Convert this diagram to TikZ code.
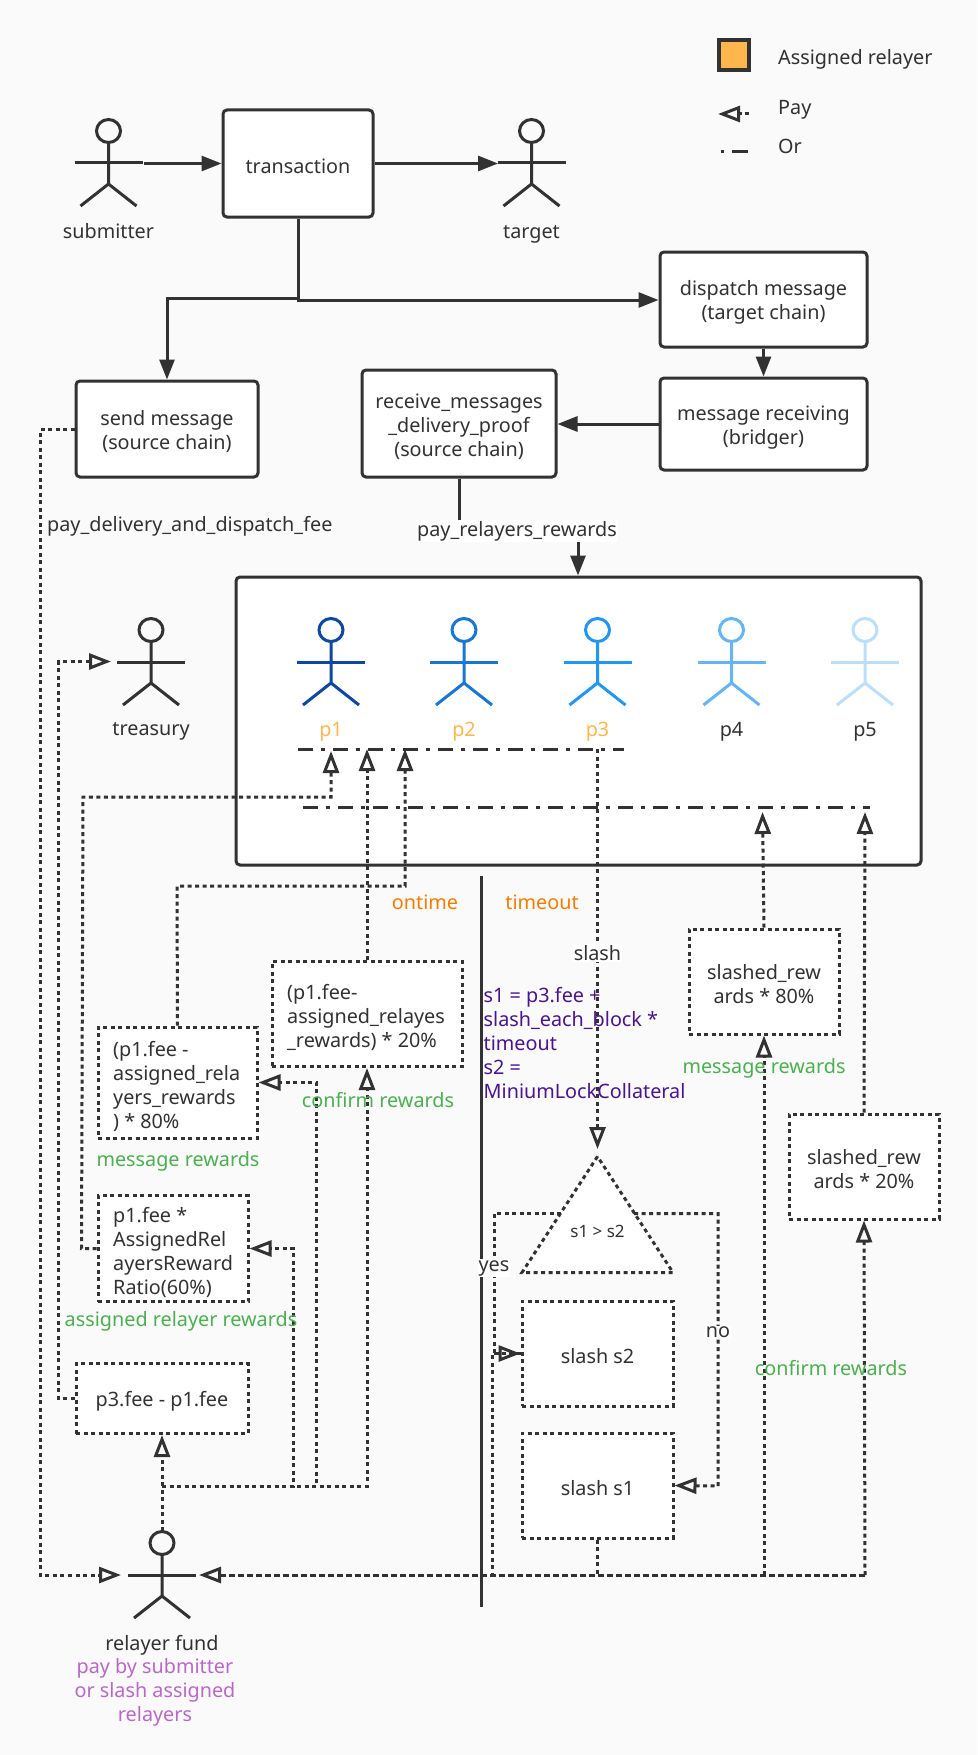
\documentclass[tikz,border=0pt]{standalone}
\usepackage{fontspec}
\setmainfont{Noto Sans}
\usetikzlibrary{arrows.meta}
\usetikzlibrary{shapes.geometric}
\definecolor{ink}{HTML}{323232}
\definecolor{paper}{HTML}{FAFAFA}
\definecolor{gold}{HTML}{FFB74D}
\definecolor{greenlbl}{HTML}{4CAF50}
\definecolor{orangelbl}{HTML}{F57C00}
\definecolor{violetlbl}{HTML}{4A148C}
\definecolor{pinklbl}{HTML}{BA68C8}
\tikzset{
  lbl/.style={inner sep=0pt, align=center, text=ink, font=\fontsize{19.8}{24}\selectfont},
  leftlbl/.style={lbl, align=left, anchor=west},
  patch/.style={lbl, fill=white, inner sep=1pt},
  greenname/.style={lbl, text=greenlbl},
  chain/.style={draw=ink, line width=3pt, fill=white, rounded corners=4pt, lbl},
  fee/.style={draw=ink, line width=3pt, fill=white, lbl, dash pattern=on 4pt off 3.5pt},
  solid line/.style={draw=ink, line width=3pt, -{Triangle[length=20pt,width=15pt]}},
  dots/.style={draw=ink, line width=3pt, dash pattern=on 4pt off 3.5pt},
  pay/.style={dots, -{Triangle[open,length=22pt,width=16pt,line width=3pt]}},
  orline/.style={draw=ink, line width=3pt, dash pattern=on 15pt off 7.5pt on 4.5pt off 8pt},
}
\newcommand{\sink}{\rule{0pt}{21pt}}
\newcommand{\stick}[3]{% x, y of head centre, colour
  \draw[#3, line width=3pt] (#1, #2) ellipse (12 and 11.5);
  \draw[#3, line width=3pt] (#1, #2+11.5) -- (#1, #2+53) -- (#1-28, #2+75);
  \draw[#3, line width=3pt] (#1, #2+53) -- (#1+28, #2+75);
  \draw[#3, line width=3pt] (#1-34, #2+32) -- (#1+34, #2+32);
}
\begin{document}
\begin{tikzpicture}[x=1pt, y=-1pt]
  \fill[paper] (0, 0) rectangle (977, 1755);
  \useasboundingbox (0, 0) rectangle (977, 1755);

  % legend
  \node[draw=ink, line width=3.5pt, fill=gold, minimum width=30pt, minimum height=30pt, inner sep=0pt] (swatch) at (734, 55) {};
  \node[leftlbl] (legendA) at (778, 59) {Assigned relayer};
  \node[leftlbl] (legendP) at (778, 110) {Pay};
  \node[leftlbl] (legendO) at (778, 146) {Or};
  \coordinate (payFrom) at (749, 114);
  \coordinate (payTo) at (718, 114);
  \draw[pay] (payFrom) -- (payTo);
  \coordinate (orFrom) at (721, 152);
  \coordinate (orTo) at (748, 152);
  \draw[draw=ink, line width=3pt, dash pattern=on 3pt off 8pt on 16pt off 10pt] (orFrom) -- (orTo);

  % top of the flow
  \stick{108.5}{131}{ink}
  \stick{531.5}{131}{ink}
  \node[lbl] (submitter) at (108.5, 231) {submitter};
  \node[lbl] (target) at (531.5, 234) {target};
  \node[chain, minimum width=150pt, minimum height=107pt] (transaction) at (298, 163.5) {\sink transaction};
  \node[chain, minimum width=207pt, minimum height=95pt] (dispatch) at (763.5, 299.5) {\sink dispatch message\\(target chain)};
  \node[chain, minimum width=207pt, minimum height=92pt] (receiving) at (763.5, 424) {\sink message receiving\\(bridger)};
  \node[chain, minimum width=194pt, minimum height=107pt] (proof) at (459, 423.5) {\sink receive\_messages\\\_delivery\_proof\\(source chain)};
  \node[chain, minimum width=182pt, minimum height=96pt] (send) at (167, 429) {\sink send message\\(source chain)};
  \coordinate (subHand) at (144, 163.5);
  \coordinate (tgtHand) at (498, 163.5);
  \coordinate (split) at (298, 300);
  \coordinate (splitL) at (298, 298);
  \draw[solid line] (subHand) -- (transaction.west |- subHand);
  \draw[solid line] (transaction.east |- tgtHand) -- (tgtHand);
  \draw[solid line] (transaction.south) -- (split) -- (dispatch.west |- split);
  \draw[solid line] (splitL) -| (send.north);
  \draw[solid line] (dispatch.south) -- (receiving.north);
  \draw[solid line] (receiving.west) -- (receiving.west -| proof.east);

  % relayers
  \node[draw=ink, line width=3pt, fill=white, rounded corners=4pt, minimum width=685pt, minimum height=288pt] (group) at (578.5, 721) {};
  \foreach \name/\i/\col in {p1/331/0D47A1, p2/464/1976D2, p3/597.5/2196F3, p4/731.5/64B5F6, p5/865/BBDEFB} {
    \definecolor{stickcol}{HTML}{\col}
    \stick{\i}{630}{stickcol}
  }
  \foreach \name/\i in {p1/331, p2/464, p3/597.5} {
    \node[lbl, text=gold] (\name) at (\i, 731.5) {\name};
  }
  \foreach \name/\i in {p4/731.5, p5/865} {
    \node[lbl] (\name) at (\i, 731.5) {\name};
  }
  \stick{151}{630}{ink}
  \node[lbl] (treasury) at (151, 731.5) {treasury};
  \coordinate (orA1) at (298, 749);
  \coordinate (orA2) at (624, 749);
  \coordinate (orB1) at (303, 807);
  \coordinate (orB2) at (870, 807);
  \draw[orline] (orA1) -- (orA2);
  \draw[orline] (orB1) -- (orB2);

  % fee boxes
  \node[fee, minimum width=190pt, minimum height=105pt] (confirmBox) at (367, 1014) {};
  \node[leftlbl] (confirmTxt) at (287, 1017) {(p1.fee-\\assigned\_relayes\\\_rewards) * 20\%};
  \node[fee, minimum width=159pt, minimum height=111pt] (messageBox) at (177.5, 1082.5) {};
  \node[leftlbl] (messageTxt) at (113, 1086) {(p1.fee -\\assigned\_rela\\yers\_rewards\\) * 80\%};
  \node[fee, minimum width=150pt, minimum height=106pt] (assignedBox) at (173, 1248.5) {};
  \node[leftlbl] (assignedTxt) at (113, 1252) {p1.fee *\\AssignedRel\\ayersReward\\Ratio(60\%)};
  \node[fee, minimum width=172pt, minimum height=70pt] (restBox) at (162, 1398.5) {\sink p3.fee - p1.fee};
  \node[fee, minimum width=150pt, minimum height=105pt] (slash80) at (764, 981.5) {\sink slashed\_rew\\ards * 80\%};
  \node[fee, minimum width=150pt, minimum height=105pt] (slash20) at (864, 1166.5) {\sink slashed\_rew\\ards * 20\%};
  \node[fee, isosceles triangle, isosceles triangle stretches, shape border rotate=90, minimum width=151pt, minimum height=116pt, inner sep=0pt, anchor=lower side] (decide) at (597.5, 1274) {};
  \node[lbl, font=\fontsize{17}{20}\selectfont] (decideTxt) at (597.5, 1231) {s1 > s2};
  \node[fee, minimum width=151pt, minimum height=105pt] (slashS2) at (597.5, 1353.5) {\sink slash s2};
  \node[fee, minimum width=151pt, minimum height=105pt] (slashS1) at (597.5, 1485.5) {\sink slash s1};

  % relayer fund
  \stick{162}{1543}{ink}
  \node[lbl] (fund) at (162, 1645) {relayer fund};
  \node[lbl, text=pinklbl] (fundNote) at (155, 1692.5) {pay by submitter\\or slash assigned\\relayers};

  % pay lines
  \coordinate (fundL) at (121, 1575);
  \coordinate (fundR) at (199, 1575);
  \coordinate (fundT) at (162, 1531);
  \coordinate (tree) at (111, 661.5);
  \coordinate (junction) at (162, 1486);
  \coordinate (farEnd) at (865, 1575);
  \coordinate (midEnd) at (764, 1575);
  \coordinate (decideTop) at (597.5, 1149);
  \coordinate (yesOut) at (561, 1213.5);
  \coordinate (noOut) at (634, 1213.5);
  \draw[pay] (send.west) -- ++(-34, 0) |- (fundL);
  \draw[pay] (restBox.west) -- ++(-16, 0) |- (tree);
  \draw[pay] (assignedBox.west) -- ++(-15, 0) -- (83, 797) -- (331, 797) -- (331, 751);
  \draw[pay] (confirmBox.north) -- (367, 749);
  \draw[pay] (messageBox.north) -- (177, 886) -- (405, 886) -- (405, 749);
  \draw[pay] (slash80.north) -- (762.5, 812);
  \draw[pay] (slash20.north) -- (865, 812);
  \draw[pay] (fundT) -- (restBox.south);
  \draw[pay] (junction) -| (confirmBox.south);
  \draw[pay] (junction) -- (316.5, 1486) -- (316.5, 1082.5) -- (messageBox.east);
  \draw[pay] (junction) -- (293, 1486) -- (293, 1248.5) -- (assignedBox.east);
  \draw[pay, dash pattern=on 6pt off 3pt] (farEnd) -- (fundR);
  \draw[pay] (midEnd) -- (slash80.south);
  \draw[pay] (farEnd) -- (slash20.south);
  \draw[dots] (slashS1.south) -- (slashS1.south |- fundR);
  \draw[pay] (yesOut) -- (494, 1213.5) -- (494, 1353.5) -- (slashS2.west);
  \draw[dots] (slashS2.west) -- (492, 1353.5) -- (492, 1575);
  \draw[pay] (noOut) -- (718, 1213.5) -- (718, 1486) -- (slashS1.east);
  \draw[pay] (597.5, 749) -- (decideTop);
  \draw[draw=ink, line width=3pt] (481, 875.5) -- (481, 1607);

  % connector labels
  \node[leftlbl] (feeLbl) at (47, 526) {pay\_delivery\_and\_dispatch\_fee};
  \coordinate (payA) at (459, 529);
  \coordinate (payB) at (578, 529);
  \draw[solid line] (proof.south) -- (payA) -- (payB) -- (group.north -| payB);
  \node[patch] (rewardsLbl) at (517, 531) {pay\_relayers\_rewards};
  \node[patch] (slashLbl) at (597.5, 953) {slash};
  \node[patch] (yesLbl) at (494, 1268) {yes};
  \node[patch] (noLbl) at (718, 1332) {no};
  \node[lbl, text=orangelbl] (ontime) at (425, 902) {ontime};
  \node[lbl, text=orangelbl] (timeout) at (542, 902) {timeout};
  \node[leftlbl, text=violetlbl] (formula) at (483.5, 1043) {s1 = p3.fee +\\slash\_each\_block *\\timeout\\s2 =\\MiniumLockCollateral};
  \node[greenname] (g1) at (378, 1100) {confirm rewards};
  \node[greenname] (g2) at (178, 1161) {message rewards};
  \node[greenname] (g3) at (181, 1321) {assigned relayer rewards};
  \node[greenname] (g4) at (764, 1068) {message rewards};
  \node[greenname] (g5) at (831, 1368) {confirm rewards};
\end{tikzpicture}
\end{document}
